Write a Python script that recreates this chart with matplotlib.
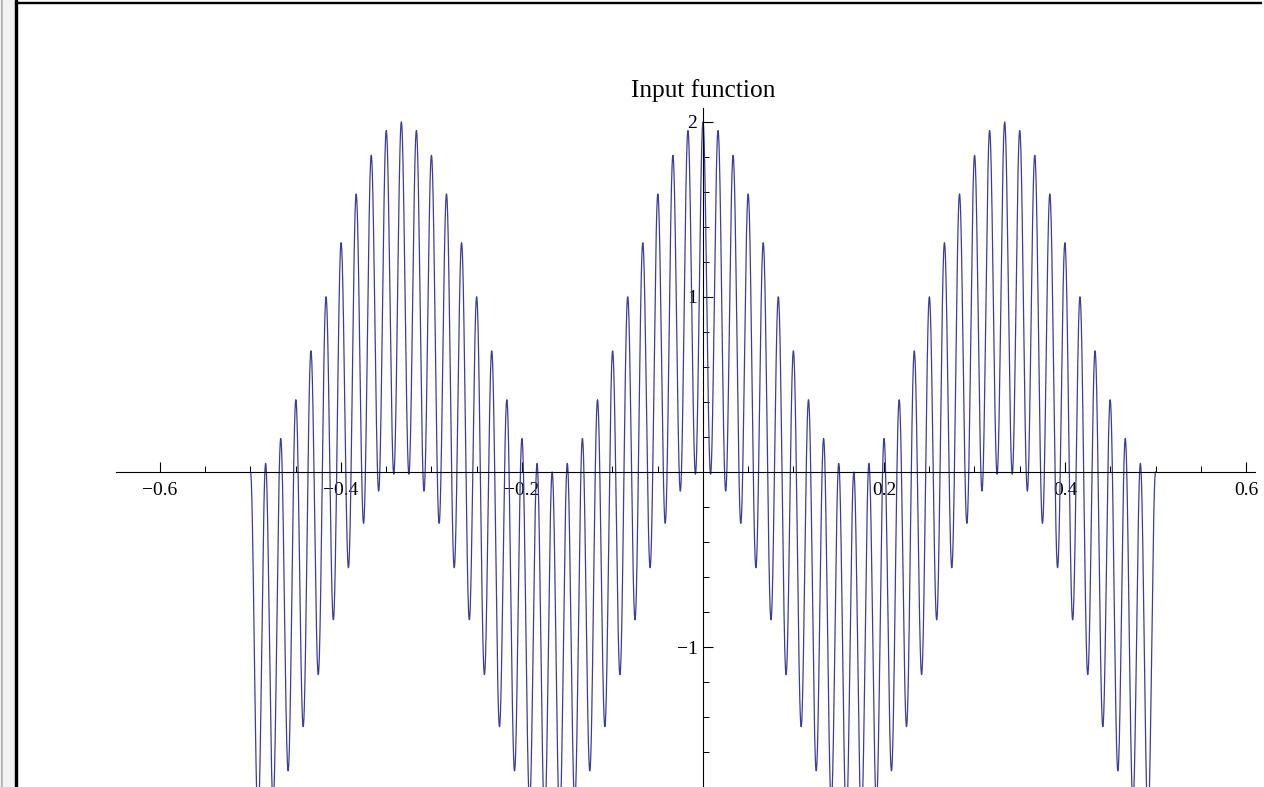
import numpy as np
import matplotlib
matplotlib.use("Agg")
import matplotlib.pyplot as plt
from matplotlib.patches import Rectangle
from matplotlib.ticker import MultipleLocator, FixedLocator

# input signal: sum of cosines
amplitudes = [1.0, 1.0]
frequencies = [3.0, 60.0]
domain = [-0.5, 0.5]
n_samples = 20000

x_ticks = [-0.6, -0.4, -0.2, 0.2, 0.4, 0.6]
x_labels = ["\u22120.6", "\u22120.4", "\u22120.2", "0.2", "0.4", "0.6"]
y_ticks = [-1, 1, 2]
y_labels = ["\u22121", "1", "2"]
title = "Input function"


def main():
    plt.rcParams["font.family"] = ["Liberation Serif", "DejaVu Serif"]
    W, H = 1264, 787
    fig = plt.figure(figsize=(W / 100, H / 100), dpi=100)

    # notebook frame around the graphic
    fig.patches.append(Rectangle((1 / W, 0), 2.3 / W, 1, transform=fig.transFigure,
                                 color="#b4b4b4", zorder=-5))
    fig.patches.append(Rectangle((3.3 / W, 0), 11 / W, 1, transform=fig.transFigure,
                                 color="#f3f3f3", zorder=-5))
    fig.patches.append(Rectangle((14.5 / W, 0), 2.0 / W, 1, transform=fig.transFigure,
                                 color="black", zorder=-5))
    fig.patches.append(Rectangle((14.5 / W, 1 - 2.8 / H), (1261 - 14.5) / W, 1.1 / H,
                                 transform=fig.transFigure, color="black", zorder=-5))

    # px -> data: x0 at 703, 905 px/unit; y0 at 472, 175 px/unit
    x0, sx = 703.0, 905.0
    y0, sy = 472.0, 175.0
    left_px, right_px = 116.0, 1255.0
    top_px, bot_px = 108.0, 787.0
    ax = fig.add_axes([left_px / W, 1 - bot_px / H, (right_px - left_px) / W,
                       (bot_px - top_px) / H])
    ax.set_xlim((left_px - x0) / sx, (right_px - x0) / sx)
    ax.set_ylim((y0 - bot_px) / sy, (y0 - top_px) / sy)
    ax.patch.set_alpha(0)

    x = np.linspace(domain[0], domain[1], n_samples)
    y = np.zeros_like(x)
    for a, f in zip(amplitudes, frequencies):
        y += a * np.cos(2 * np.pi * f * x)
    ax.plot(x, y, color=(0.24, 0.24, 0.6), lw=0.9, clip_on=True)

    for s in ["top", "right"]:
        ax.spines[s].set_visible(False)
    ax.spines["left"].set_position(("data", 0))
    ax.spines["bottom"].set_position(("data", 0))
    ax.spines["left"].set_linewidth(0.8)
    ax.spines["bottom"].set_linewidth(0.8)

    ax.xaxis.set_major_locator(FixedLocator(x_ticks))
    ax.set_xticklabels(x_labels)
    ax.xaxis.set_minor_locator(MultipleLocator(0.05))
    ax.yaxis.set_major_locator(FixedLocator(y_ticks))
    ax.set_yticklabels(y_labels)
    ax.yaxis.set_minor_locator(MultipleLocator(0.2))

    ax.tick_params(axis="both", which="major", direction="in", length=7.5,
                   width=0.8, labelsize=14)
    ax.tick_params(axis="both", which="minor", direction="in", length=4.5, width=0.7)
    ax.tick_params(axis="x", which="major", pad=7)
    ax.tick_params(axis="y", which="major", pad=4)

    fig.text(703.5 / W, 1 - 97 / H, title, ha="center", va="baseline", fontsize=18.3)

    fig.savefig("out.png", dpi=100)


if __name__ == "__main__":
    main()
